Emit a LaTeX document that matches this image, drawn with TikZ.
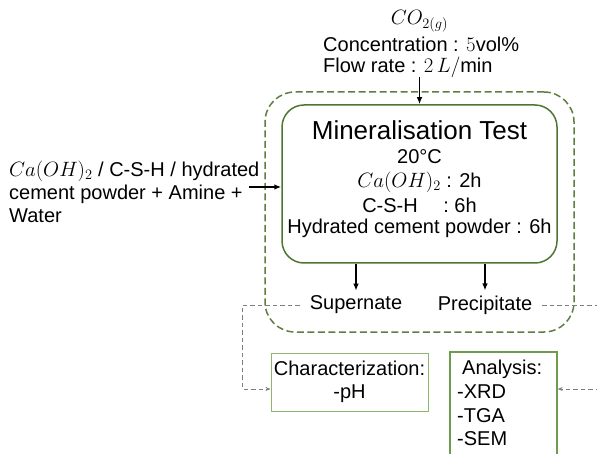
\documentclass[tikz,border=0pt]{standalone}
\usepackage{fontspec}
\setmainfont{Liberation Sans}
\usetikzlibrary{arrows.meta}
\definecolor{boxgreen}{HTML}{4E7534}
\definecolor{dashgreen}{HTML}{5B7F41}
\definecolor{lightgreen}{HTML}{8DB56E}
\definecolor{midgreen}{HTML}{6E9C4D}
\definecolor{linegrey}{HTML}{7E7E7E}
\begin{document}
\begin{tikzpicture}[x=1pt,y=-1pt,
  txt/.style={inner sep=0pt, font=\fontsize{20}{23}\selectfont},
  flow/.style={-{Latex[length=7pt,width=5.5pt]}, line width=1.3pt, black},
  lead/.style={linegrey, line width=0.8pt, dash pattern=on 4.5pt off 3pt},
  leadtip/.style={-{Stealth[length=5pt,width=4pt]}},
  panel/.style={inner sep=0pt, fill=none}
]
\useasboundingbox (0,0) rectangle (597,454);
\clip (0,0) rectangle (597,454);

% enclosing dashed frame and the test box
\node[panel, draw=dashgreen, line width=1.5pt, dash pattern=on 7pt off 3.5pt,
      rounded corners=30pt, minimum width=309pt, minimum height=240pt] (enc) at (419.5,212) {};
\node[panel, draw=boxgreen, line width=1.5pt, rounded corners=22pt,
      minimum width=275pt, minimum height=158pt] (mt) at (419.5,184) {};

% gas supply
\node[txt] (co2) at (419.5,21) {$CO_{2(g)}$};
\node[txt, anchor=west] (conc) at (323,44) {Concentration : $5\mathrm{vol}\%$};
\node[txt, anchor=west] (rate) at (323,67) {Flow rate : $2\,L/\mathrm{min}$};
\coordinate (gasin) at (419.5,77);
\draw[flow] (gasin) -- (mt.north);

% test conditions
\node[txt, font=\fontsize{26}{30}\selectfont] (title) at (419.5,130) {Mineralisation Test};
\node[txt] (temp) at (419.5,157) {20°C};
\node[txt] (t1) at (419.5,182) {$Ca(OH)_2$ : 2h};
\node[txt] (t2) at (419.5,205) {C-S-H\hspace{20pt} : 6h};
\node[txt] (t3) at (419.5,228) {Hydrated cement powder : 6h};

% feed materials
\node[txt, anchor=west, align=left] (feed) at (9,192)
  {$Ca(OH)_2$ / C-S-H / hydrated\\cement powder + Amine +\\Water};
\coordinate (feedtip) at (249,187);
\draw[flow] (feedtip) -- (feedtip -| mt.west);

% products
\node[txt, inner xsep=10pt, inner ysep=5pt] (sup) at (356,305) {Supernate};
\node[txt, inner xsep=10pt, inner ysep=5pt] (pre) at (485,305) {Precipitate};
\draw[flow] (mt.south -| sup) -- (sup.north);
\draw[flow] (mt.south -| pre) -- (pre.north);

% characterisation boxes
\node[panel, draw=lightgreen, line width=1pt, minimum width=157pt, minimum height=58pt] (char) at (349.5,382) {};
\node[txt, align=center] (chartxt) at (349.5,382) {Characterization:\\-pH};
\node[panel, draw=midgreen, line width=1.4pt, minimum width=107pt, minimum height=120pt] (ana) at (503.5,412) {};
\node[txt, anchor=west, align=left, font=\fontsize{20}{23.7}\selectfont] (anatxt) at (457,403)
  {\hspace*{5pt}Analysis:\\-XRD\\-TGA\\-SEM};

% sample routing
\coordinate (charin) at ([yshift=-7pt]char.west);
\coordinate (anain) at ([yshift=23pt]ana.east);
\coordinate (rightedge) at (600,0);
\draw[lead, leadtip] (sup.west) -| ([xshift=-28pt]charin) -- (charin);
\draw[lead] (pre.east) -- (pre.east -| rightedge);
\draw[lead, leadtip] (anain -| rightedge) -- (anain);
\end{tikzpicture}
\end{document}
